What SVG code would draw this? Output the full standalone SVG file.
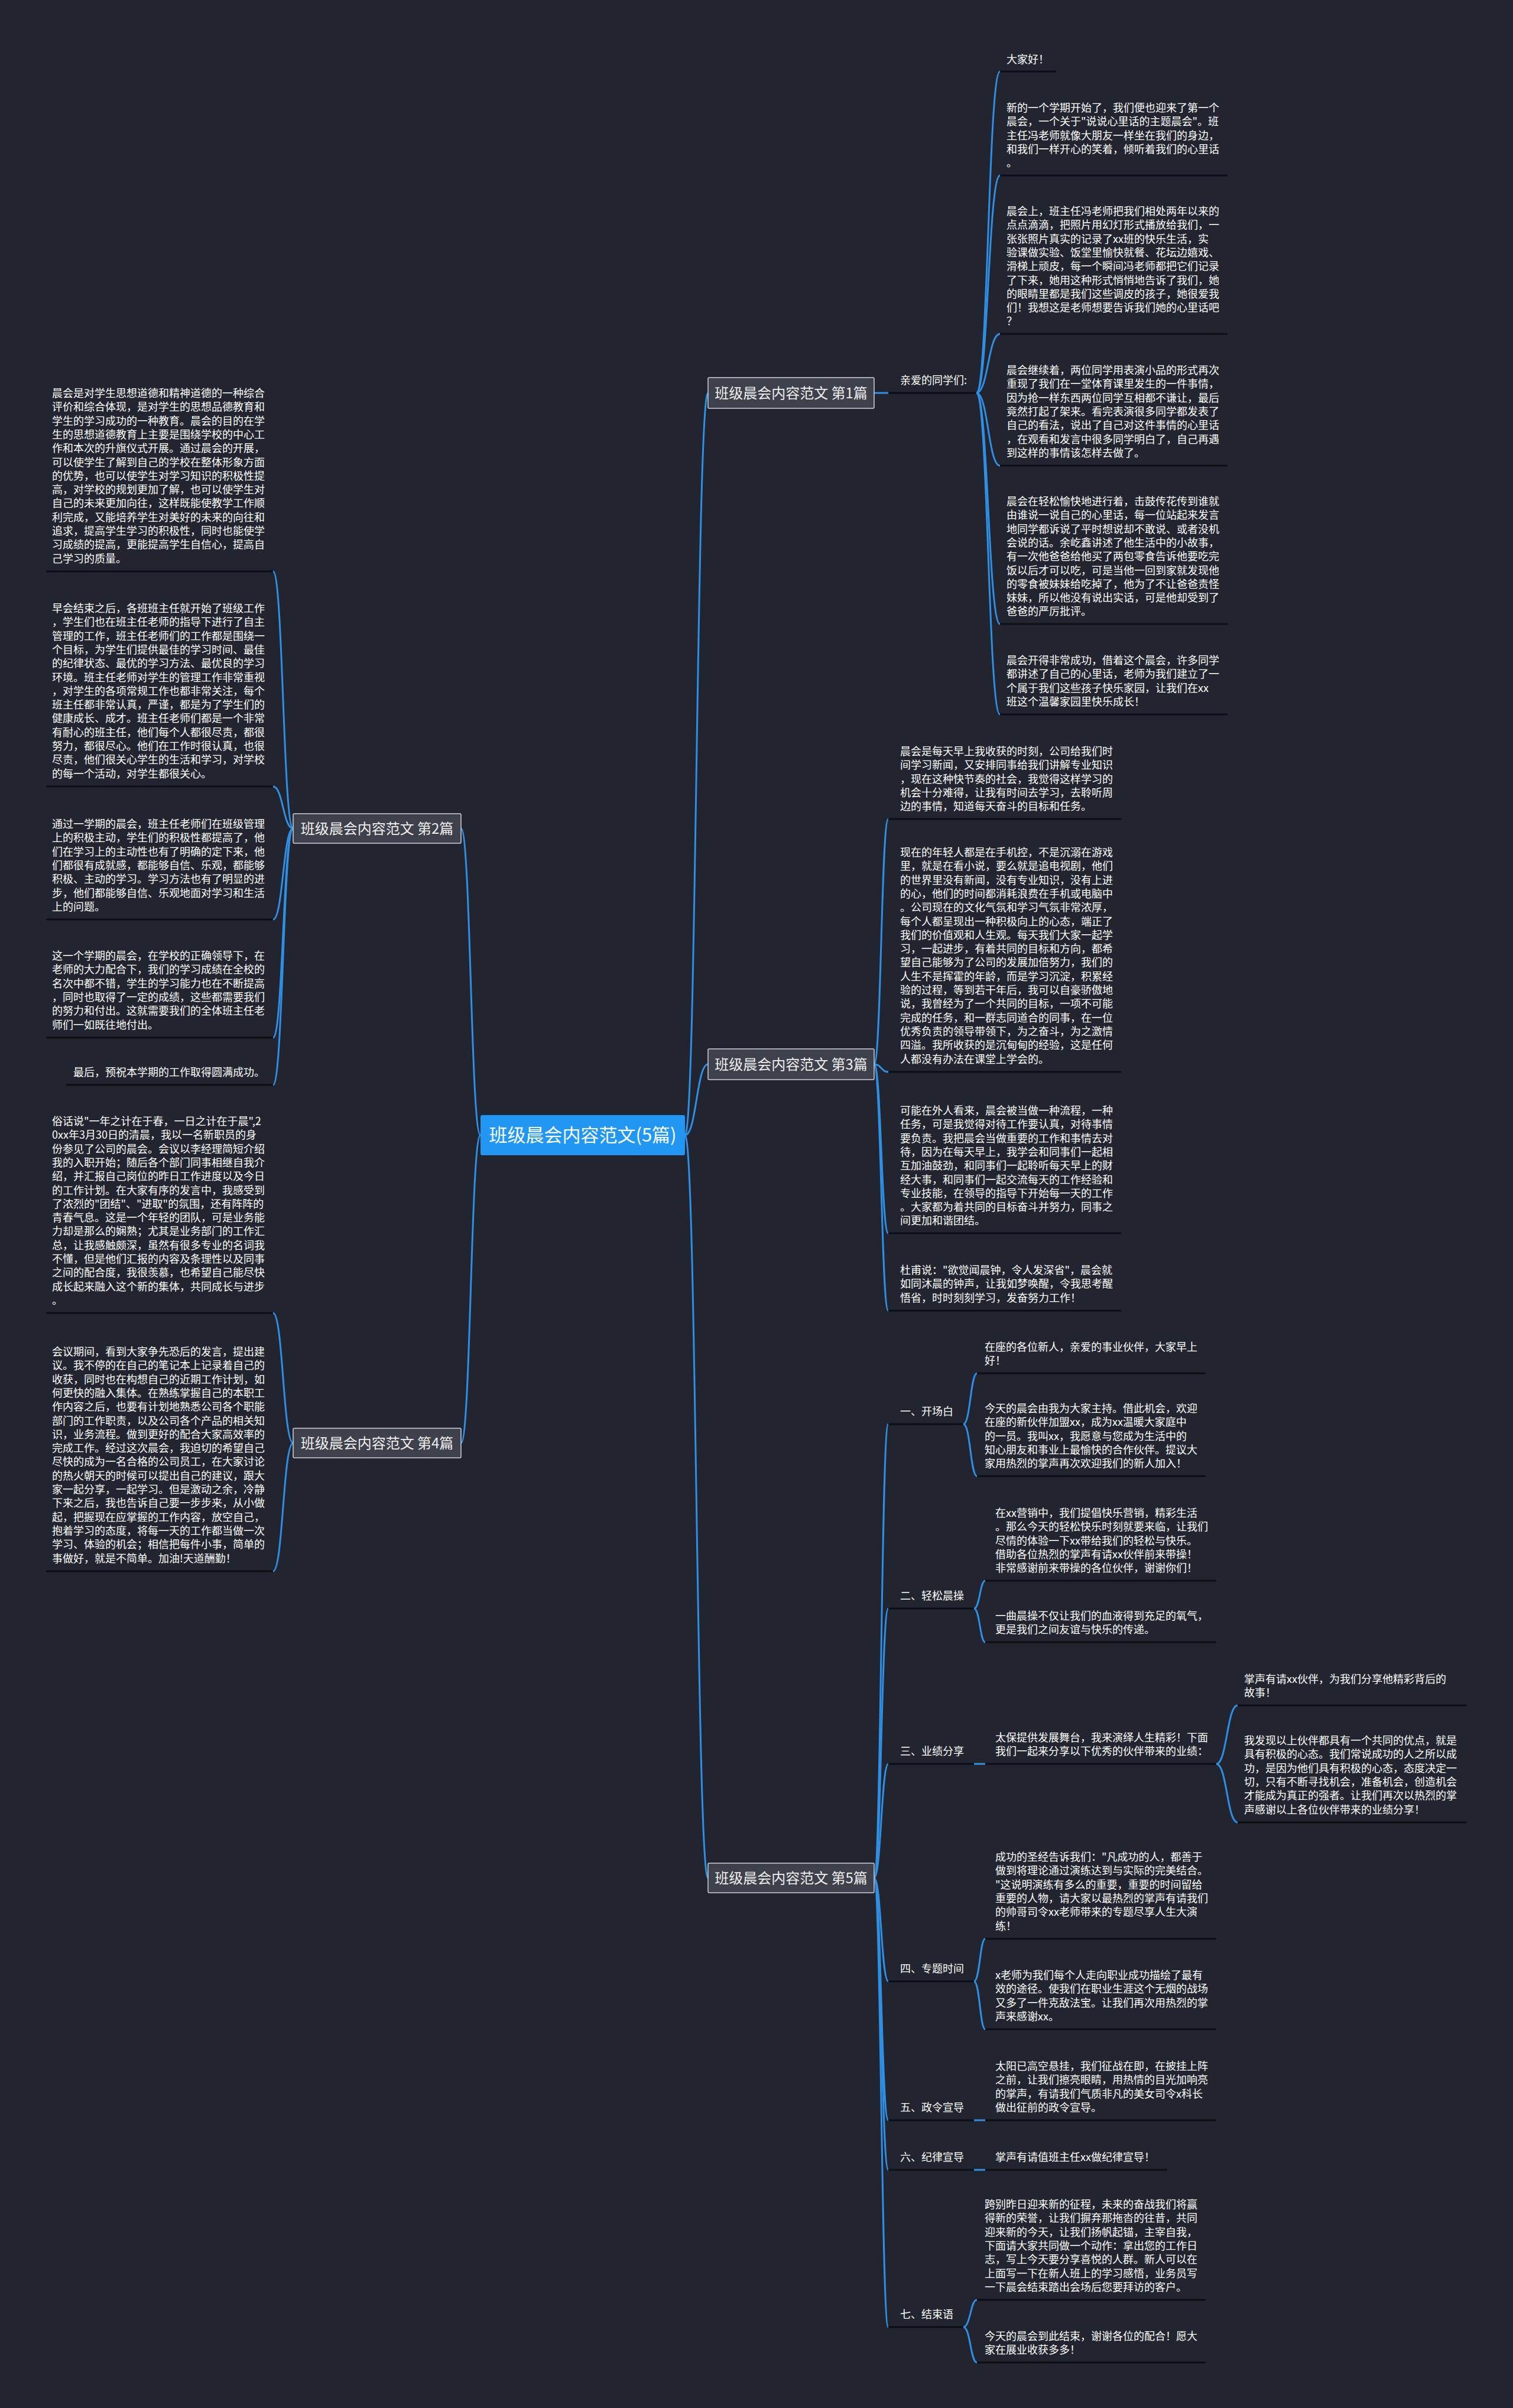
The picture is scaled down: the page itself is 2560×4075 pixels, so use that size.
<svg xmlns="http://www.w3.org/2000/svg" width="2560" height="4075" viewBox="0 0 2560 4075">
<style>
.t{font-family:"Noto Sans CJK SC","Noto Sans",sans-serif;font-size:18px;fill:#ffffff}
.ul{stroke:#0d0f14;stroke-width:3}
.c{fill:none;stroke:#2f8fe3;stroke-width:3}
.bx{fill:#3e414b;stroke:#cfd2d8;stroke-width:1.5}
.bt{font-family:"Noto Sans CJK SC","Noto Sans",sans-serif;font-size:24px;fill:#eeeeee;text-anchor:middle}
.ct{font-family:"Noto Sans CJK SC","Noto Sans",sans-serif;font-size:31px;fill:#ffffff;text-anchor:middle}
</style>
<rect x="0" y="0" width="2560" height="4075" fill="#222530"/>
<g id="connectors">
<path class="c" d="M1159 1921 C1178.5 1921 1178.5 665 1198 665"/>
<path class="c" d="M1159 1921 C1178.5 1921 1178.5 1801 1198 1801"/>
<path class="c" d="M1159 1921 C1178.5 1921 1178.5 3178 1198 3178"/>
<path class="c" d="M813 1921 C796.5 1921 796.5 1402 780 1402"/>
<path class="c" d="M813 1921 C796.5 1921 796.5 2442 780 2442"/>
<path class="c" d="M1479 665 L1503 665"/>
<path class="c" d="M1652 665 C1672 665 1672 121 1692 121"/>
<path class="c" d="M1652 665 C1672 665 1672 297 1692 297"/>
<path class="c" d="M1652 665 C1672 665 1672 565 1692 565"/>
<path class="c" d="M1652 665 C1672 665 1672 788 1692 788"/>
<path class="c" d="M1652 665 C1672 665 1672 1056 1692 1056"/>
<path class="c" d="M1652 665 C1672 665 1672 1209 1692 1209"/>
<path class="c" d="M1479 1801 C1491 1801 1491 1386 1503 1386"/>
<path class="c" d="M1479 1801 C1491 1801 1491 1814 1503 1814"/>
<path class="c" d="M1479 1801 C1491 1801 1491 2087 1503 2087"/>
<path class="c" d="M1479 1801 C1491 1801 1491 2218 1503 2218"/>
<path class="c" d="M496 1402 C479 1402 479 967 462 967"/>
<path class="c" d="M496 1402 C479 1402 479 1331 462 1331"/>
<path class="c" d="M496 1402 C479 1402 479 1556 462 1556"/>
<path class="c" d="M496 1402 C479 1402 479 1756 462 1756"/>
<path class="c" d="M496 1402 C479 1402 479 1836 462 1836"/>
<path class="c" d="M496 2442 C479 2442 479 2222 462 2222"/>
<path class="c" d="M496 2442 C479 2442 479 2659 462 2659"/>
<path class="c" d="M1479 3178 C1491 3178 1491 2410 1503 2410"/>
<path class="c" d="M1479 3178 C1491 3178 1491 2722 1503 2722"/>
<path class="c" d="M1479 3178 C1491 3178 1491 2985 1503 2985"/>
<path class="c" d="M1479 3178 C1491 3178 1491 3353 1503 3353"/>
<path class="c" d="M1479 3178 C1491 3178 1491 3588 1503 3588"/>
<path class="c" d="M1479 3178 C1491 3178 1491 3672 1503 3672"/>
<path class="c" d="M1479 3178 C1491 3178 1491 3938 1503 3938"/>
<path class="c" d="M1630 2410 C1642 2410 1642 2324 1653 2324"/>
<path class="c" d="M1630 2410 C1642 2410 1642 2498 1653 2498"/>
<path class="c" d="M1648 2722 C1658 2722 1658 2675 1667 2675"/>
<path class="c" d="M1648 2722 C1658 2722 1658 2779 1667 2779"/>
<path class="c" d="M1648 2985 L1667 2985"/>
<path class="c" d="M2058 2985 C2076 2985 2076 2886 2094 2886"/>
<path class="c" d="M2058 2985 C2076 2985 2076 3084 2094 3084"/>
<path class="c" d="M1648 3353 C1658 3353 1658 3281 1667 3281"/>
<path class="c" d="M1648 3353 C1658 3353 1658 3434 1667 3434"/>
<path class="c" d="M1648 3588 L1667 3588"/>
<path class="c" d="M1648 3672 L1667 3672"/>
<path class="c" d="M1630 3938 C1642 3938 1642 3892 1653 3892"/>
<path class="c" d="M1630 3938 C1642 3938 1642 3998 1653 3998"/>
</g>

<g id="center"><rect x="813" y="1887" width="346" height="68" rx="3" fill="#2196f3"/><text class="ct" x="986" y="1932">班级晨会内容范文(5篇)</text></g>

<g id="b1"><rect class="bx" x="1198" y="639" width="281" height="52" rx="2"/><text class="bt" x="1338.5" y="674">班级晨会内容范文 第1篇</text></g>
<g id="b2"><rect class="bx" x="496" y="1377" width="284" height="50" rx="2"/><text class="bt" x="638" y="1411">班级晨会内容范文 第2篇</text></g>
<g id="b3"><rect class="bx" x="1198" y="1775" width="281" height="52" rx="2"/><text class="bt" x="1338.5" y="1810">班级晨会内容范文 第3篇</text></g>
<g id="b4"><rect class="bx" x="496" y="2417" width="284" height="50" rx="2"/><text class="bt" x="638" y="2451">班级晨会内容范文 第4篇</text></g>
<g id="b5"><rect class="bx" x="1198" y="3153" width="281" height="50" rx="2"/><text class="bt" x="1338.5" y="3187">班级晨会内容范文 第5篇</text></g>

<g id="n1_0"><text class="t" x="1523" y="650">亲爱的同学们:</text><line class="ul" x1="1503" y1="665" x2="1652" y2="665"/></g>
<g id="n1_1"><text class="t" x="1703" y="107">大家好！</text><line class="ul" x1="1692" y1="121" x2="1787" y2="121"/></g>
<g id="n1_2"><text class="t"><tspan x="1703" y="189">新的一个学期开始了，我们便也迎来了第一个</tspan><tspan x="1703" y="212">晨会，一个关于"说说心里话的主题晨会"。班</tspan><tspan x="1703" y="236">主任冯老师就像大朋友一样坐在我们的身边，</tspan><tspan x="1703" y="259">和我们一样开心的笑着，倾听着我们的心里话</tspan><tspan x="1703" y="282">。</tspan></text><line class="ul" x1="1692" y1="297" x2="2077" y2="297"/></g>
<g id="n1_3"><text class="t"><tspan x="1703" y="364">晨会上，班主任冯老师把我们相处两年以来的</tspan><tspan x="1703" y="387">点点滴滴，把照片用幻灯形式播放给我们，一</tspan><tspan x="1703" y="411">张张照片真实的记录了xx班的快乐生活，实</tspan><tspan x="1703" y="434">验课做实验、饭堂里愉快就餐、花坛边嬉戏、</tspan><tspan x="1703" y="457">滑梯上顽皮，每一个瞬间冯老师都把它们记录</tspan><tspan x="1703" y="481">了下来，她用这种形式悄悄地告诉了我们，她</tspan><tspan x="1703" y="504">的眼睛里都是我们这些调皮的孩子，她很爱我</tspan><tspan x="1703" y="527">们！我想这是老师想要告诉我们她的心里话吧</tspan><tspan x="1703" y="550">？</tspan></text><line class="ul" x1="1692" y1="565" x2="2077" y2="565"/></g>
<g id="n1_4"><text class="t"><tspan x="1703" y="633">晨会继续着，两位同学用表演小品的形式再次</tspan><tspan x="1703" y="656">重现了我们在一堂体育课里发生的一件事情，</tspan><tspan x="1703" y="680">因为抢一样东西两位同学互相都不谦让，最后</tspan><tspan x="1703" y="703">竟然打起了架来。看完表演很多同学都发表了</tspan><tspan x="1703" y="726">自己的看法，说出了自己对这件事情的心里话</tspan><tspan x="1703" y="750">，在观看和发言中很多同学明白了，自己再遇</tspan><tspan x="1703" y="773">到这样的事情该怎样去做了。</tspan></text><line class="ul" x1="1692" y1="788" x2="2077" y2="788"/></g>
<g id="n1_5"><text class="t"><tspan x="1703" y="855">晨会在轻松愉快地进行着，击鼓传花传到谁就</tspan><tspan x="1703" y="878">由谁说一说自己的心里话，每一位站起来发言</tspan><tspan x="1703" y="902">地同学都诉说了平时想说却不敢说、或者没机</tspan><tspan x="1703" y="925">会说的话。余屹鑫讲述了他生活中的小故事，</tspan><tspan x="1703" y="948">有一次他爸爸给他买了两包零食告诉他要吃完</tspan><tspan x="1703" y="972">饭以后才可以吃，可是当他一回到家就发现他</tspan><tspan x="1703" y="995">的零食被妹妹给吃掉了，他为了不让爸爸责怪</tspan><tspan x="1703" y="1018">妹妹，所以他没有说出实话，可是他却受到了</tspan><tspan x="1703" y="1041">爸爸的严厉批评。</tspan></text><line class="ul" x1="1692" y1="1056" x2="2077" y2="1056"/></g>
<g id="n1_6"><text class="t"><tspan x="1703" y="1124">晨会开得非常成功，借着这个晨会，许多同学</tspan><tspan x="1703" y="1147">都讲述了自己的心里话，老师为我们建立了一</tspan><tspan x="1703" y="1171">个属于我们这些孩子快乐家园，让我们在xx</tspan><tspan x="1703" y="1194">班这个温馨家园里快乐成长！</tspan></text><line class="ul" x1="1692" y1="1209" x2="2077" y2="1209"/></g>

<g id="n3_1"><text class="t"><tspan x="1523" y="1278">晨会是每天早上我收获的时刻，公司给我们时</tspan><tspan x="1523" y="1301">间学习新闻，又安排同事给我们讲解专业知识</tspan><tspan x="1523" y="1325">，现在这种快节奏的社会，我觉得这样学习的</tspan><tspan x="1523" y="1348">机会十分难得，让我有时间去学习，去聆听周</tspan><tspan x="1523" y="1371">边的事情，知道每天奋斗的目标和任务。</tspan></text><line class="ul" x1="1503" y1="1386" x2="1897" y2="1386"/></g>
<g id="n3_2"><text class="t"><tspan x="1523" y="1449">现在的年轻人都是在手机控，不是沉溺在游戏</tspan><tspan x="1523" y="1472">里，就是在看小说，要么就是追电视剧，他们</tspan><tspan x="1523" y="1496">的世界里没有新闻，没有专业知识，没有上进</tspan><tspan x="1523" y="1519">的心，他们的时间都消耗浪费在手机或电脑中</tspan><tspan x="1523" y="1542">。公司现在的文化气氛和学习气氛非常浓厚，</tspan><tspan x="1523" y="1566">每个人都呈现出一种积极向上的心态，端正了</tspan><tspan x="1523" y="1589">我们的价值观和人生观。每天我们大家一起学</tspan><tspan x="1523" y="1612">习，一起进步，有着共同的目标和方向，都希</tspan><tspan x="1523" y="1635">望自己能够为了公司的发展加倍努力，我们的</tspan><tspan x="1523" y="1659">人生不是挥霍的年龄，而是学习沉淀，积累经</tspan><tspan x="1523" y="1682">验的过程，等到若干年后，我可以自豪骄傲地</tspan><tspan x="1523" y="1705">说，我曾经为了一个共同的目标，一项不可能</tspan><tspan x="1523" y="1729">完成的任务，和一群志同道合的同事，在一位</tspan><tspan x="1523" y="1752">优秀负责的领导带领下，为之奋斗，为之激情</tspan><tspan x="1523" y="1775">四溢。我所收获的是沉甸甸的经验，这是任何</tspan><tspan x="1523" y="1799">人都没有办法在课堂上学会的。</tspan></text><line class="ul" x1="1503" y1="1814" x2="1897" y2="1814"/></g>
<g id="n3_3"><text class="t"><tspan x="1523" y="1886">可能在外人看来，晨会被当做一种流程，一种</tspan><tspan x="1523" y="1909">任务，可是我觉得对待工作要认真，对待事情</tspan><tspan x="1523" y="1933">要负责。我把晨会当做重要的工作和事情去对</tspan><tspan x="1523" y="1956">待，因为在每天早上，我学会和同事们一起相</tspan><tspan x="1523" y="1979">互加油鼓劲，和同事们一起聆听每天早上的财</tspan><tspan x="1523" y="2003">经大事，和同事们一起交流每天的工作经验和</tspan><tspan x="1523" y="2026">专业技能，在领导的指导下开始每一天的工作</tspan><tspan x="1523" y="2049">。大家都为着共同的目标奋斗并努力，同事之</tspan><tspan x="1523" y="2072">间更加和谐团结。</tspan></text><line class="ul" x1="1503" y1="2087" x2="1897" y2="2087"/></g>
<g id="n3_4"><text class="t"><tspan x="1523" y="2156">杜甫说："欲觉闻晨钟，令人发深省"，晨会就</tspan><tspan x="1523" y="2179">如同沐晨的钟声，让我如梦唤醒，令我思考醒</tspan><tspan x="1523" y="2203">悟省，时时刻刻学习，发奋努力工作！</tspan></text><line class="ul" x1="1503" y1="2218" x2="1897" y2="2218"/></g>

<g id="L1"><text class="t"><tspan x="88" y="672">晨会是对学生思想道德和精神道德的一种综合</tspan><tspan x="88" y="695">评价和综合体现，是对学生的思想品德教育和</tspan><tspan x="88" y="719">学生的学习成功的一种教育。晨会的目的在学</tspan><tspan x="88" y="742">生的思想道德教育上主要是围绕学校的中心工</tspan><tspan x="88" y="765">作和本次的升旗仪式开展。通过晨会的开展，</tspan><tspan x="88" y="789">可以使学生了解到自己的学校在整体形象方面</tspan><tspan x="88" y="812">的优势，也可以使学生对学习知识的积极性提</tspan><tspan x="88" y="835">高，对学校的规划更加了解，也可以使学生对</tspan><tspan x="88" y="858">自己的未来更加向往，这样既能使教学工作顺</tspan><tspan x="88" y="882">利完成，又能培养学生对美好的未来的向往和</tspan><tspan x="88" y="905">追求，提高学生学习的积极性，同时也能使学</tspan><tspan x="88" y="928">习成绩的提高，更能提高学生自信心，提高自</tspan><tspan x="88" y="952">己学习的质量。</tspan></text><line class="ul" x1="78" y1="967" x2="462" y2="967"/></g>
<g id="L2"><text class="t"><tspan x="88" y="1036">早会结束之后，各班班主任就开始了班级工作</tspan><tspan x="88" y="1059">，学生们也在班主任老师的指导下进行了自主</tspan><tspan x="88" y="1083">管理的工作，班主任老师们的工作都是围绕一</tspan><tspan x="88" y="1106">个目标，为学生们提供最佳的学习时间、最佳</tspan><tspan x="88" y="1129">的纪律状态、最优的学习方法、最优良的学习</tspan><tspan x="88" y="1153">环境。班主任老师对学生的管理工作非常重视</tspan><tspan x="88" y="1176">，对学生的各项常规工作也都非常关注，每个</tspan><tspan x="88" y="1199">班主任都非常认真，严谨，都是为了学生们的</tspan><tspan x="88" y="1222">健康成长、成才。班主任老师们都是一个非常</tspan><tspan x="88" y="1246">有耐心的班主任，他们每个人都很尽责，都很</tspan><tspan x="88" y="1269">努力，都很尽心。他们在工作时很认真，也很</tspan><tspan x="88" y="1292">尽责，他们很关心学生的生活和学习，对学校</tspan><tspan x="88" y="1316">的每一个活动，对学生都很关心。</tspan></text><line class="ul" x1="78" y1="1331" x2="462" y2="1331"/></g>
<g id="L3"><text class="t"><tspan x="88" y="1401">通过一学期的晨会，班主任老师们在班级管理</tspan><tspan x="88" y="1424">上的积极主动，学生们的积极性都提高了，他</tspan><tspan x="88" y="1448">们在学习上的主动性也有了明确的定下来，他</tspan><tspan x="88" y="1471">们都很有成就感，都能够自信、乐观，都能够</tspan><tspan x="88" y="1494">积极、主动的学习。学习方法也有了明显的进</tspan><tspan x="88" y="1518">步，他们都能够自信、乐观地面对学习和生活</tspan><tspan x="88" y="1541">上的问题。</tspan></text><line class="ul" x1="78" y1="1556" x2="462" y2="1556"/></g>
<g id="L4"><text class="t"><tspan x="88" y="1624">这一个学期的晨会，在学校的正确领导下，在</tspan><tspan x="88" y="1647">老师的大力配合下，我们的学习成绩在全校的</tspan><tspan x="88" y="1671">名次中都不错，学生的学习能力也在不断提高</tspan><tspan x="88" y="1694">，同时也取得了一定的成绩，这些都需要我们</tspan><tspan x="88" y="1717">的努力和付出。这就需要我们的全体班主任老</tspan><tspan x="88" y="1741">师们一如既往地付出。</tspan></text><line class="ul" x1="78" y1="1756" x2="462" y2="1756"/></g>
<g id="L5"><text class="t" x="124" y="1821">最后，预祝本学期的工作取得圆满成功。</text><line class="ul" x1="112" y1="1836" x2="462" y2="1836"/></g>
<g id="L6"><text class="t"><tspan x="88" y="1904">俗话说"一年之计在于春，一日之计在于晨",2</tspan><tspan x="88" y="1927">0xx年3月30日的清晨，我以一名新职员的身</tspan><tspan x="88" y="1951">份参见了公司的晨会。会议以李经理简短介绍</tspan><tspan x="88" y="1974">我的入职开始；随后各个部门同事相继自我介</tspan><tspan x="88" y="1997">绍，并汇报自己岗位的昨日工作进度以及今日</tspan><tspan x="88" y="2021">的工作计划。在大家有序的发言中，我感受到</tspan><tspan x="88" y="2044">了浓烈的"团结"、"进取"的氛围，还有阵阵的</tspan><tspan x="88" y="2067">青春气息。这是一个年轻的团队，可是业务能</tspan><tspan x="88" y="2090">力却是那么的娴熟；尤其是业务部门的工作汇</tspan><tspan x="88" y="2114">总，让我感触颇深，虽然有很多专业的名词我</tspan><tspan x="88" y="2137">不懂，但是他们汇报的内容及条理性以及同事</tspan><tspan x="88" y="2160">之间的配合度，我很羡慕，也希望自己能尽快</tspan><tspan x="88" y="2184">成长起来融入这个新的集体，共同成长与进步</tspan><tspan x="88" y="2207">。</tspan></text><line class="ul" x1="78" y1="2222" x2="462" y2="2222"/></g>
<g id="L7"><text class="t"><tspan x="88" y="2294">会议期间，看到大家争先恐后的发言，提出建</tspan><tspan x="88" y="2317">议。我不停的在自己的笔记本上记录着自己的</tspan><tspan x="88" y="2341">收获，同时也在构想自己的近期工作计划，如</tspan><tspan x="88" y="2364">何更快的融入集体。在熟练掌握自己的本职工</tspan><tspan x="88" y="2387">作内容之后，也要有计划地熟悉公司各个职能</tspan><tspan x="88" y="2411">部门的工作职责，以及公司各个产品的相关知</tspan><tspan x="88" y="2434">识，业务流程。做到更好的配合大家高效率的</tspan><tspan x="88" y="2457">完成工作。经过这次晨会，我迫切的希望自己</tspan><tspan x="88" y="2480">尽快的成为一名合格的公司员工，在大家讨论</tspan><tspan x="88" y="2504">的热火朝天的时候可以提出自己的建议，跟大</tspan><tspan x="88" y="2527">家一起分享，一起学习。但是激动之余，冷静</tspan><tspan x="88" y="2550">下来之后，我也告诉自己要一步步来，从小做</tspan><tspan x="88" y="2574">起，把握现在应掌握的工作内容，放空自己，</tspan><tspan x="88" y="2597">抱着学习的态度，将每一天的工作都当做一次</tspan><tspan x="88" y="2620">学习、体验的机会；相信把每件小事，简单的</tspan><tspan x="88" y="2644">事做好，就是不简单。加油!天道酬勤！</tspan></text><line class="ul" x1="78" y1="2659" x2="462" y2="2659"/></g>

<g id="s1"><text class="t" x="1523" y="2395">一、开场白</text><line class="ul" x1="1503" y1="2410" x2="1630" y2="2410"/></g>
<g id="c1a"><text class="t"><tspan x="1666" y="2286">在座的各位新人，亲爱的事业伙伴，大家早上</tspan><tspan x="1666" y="2309">好！</tspan></text><line class="ul" x1="1653" y1="2324" x2="2040" y2="2324"/></g>
<g id="c1b"><text class="t"><tspan x="1666" y="2390">今天的晨会由我为大家主持。借此机会，欢迎</tspan><tspan x="1666" y="2413">在座的新伙伴加盟xx，成为xx温暖大家庭中</tspan><tspan x="1666" y="2437">的一员。我叫xx，我愿意与您成为生活中的</tspan><tspan x="1666" y="2460">知心朋友和事业上最愉快的合作伙伴。提议大</tspan><tspan x="1666" y="2483">家用热烈的掌声再次欢迎我们的新人加入！</tspan></text><line class="ul" x1="1653" y1="2498" x2="2040" y2="2498"/></g>
<g id="s2"><text class="t" x="1523" y="2707">二、轻松晨操</text><line class="ul" x1="1503" y1="2722" x2="1648" y2="2722"/></g>
<g id="c2a"><text class="t"><tspan x="1684" y="2567">在xx营销中，我们提倡快乐营销，精彩生活</tspan><tspan x="1684" y="2590">。那么今天的轻松快乐时刻就要来临，让我们</tspan><tspan x="1684" y="2614">尽情的体验一下xx带给我们的轻松与快乐。</tspan><tspan x="1684" y="2637">借助各位热烈的掌声有请xx伙伴前来带操！</tspan><tspan x="1684" y="2660">非常感谢前来带操的各位伙伴，谢谢你们！</tspan></text><line class="ul" x1="1667" y1="2675" x2="2058" y2="2675"/></g>
<g id="c2b"><text class="t"><tspan x="1684" y="2741">一曲晨操不仅让我们的血液得到充足的氧气，</tspan><tspan x="1684" y="2764">更是我们之间友谊与快乐的传递。</tspan></text><line class="ul" x1="1667" y1="2779" x2="2058" y2="2779"/></g>
<g id="s3"><text class="t" x="1523" y="2970">三、业绩分享</text><line class="ul" x1="1503" y1="2985" x2="1648" y2="2985"/></g>
<g id="c3"><text class="t"><tspan x="1684" y="2947">太保提供发展舞台，我来演绎人生精彩！下面</tspan><tspan x="1684" y="2970">我们一起来分享以下优秀的伙伴带来的业绩：</tspan></text><line class="ul" x1="1667" y1="2985" x2="2058" y2="2985"/></g>
<g id="c3a"><text class="t"><tspan x="2105" y="2848">掌声有请xx伙伴，为我们分享他精彩背后的</tspan><tspan x="2105" y="2871">故事！</tspan></text><line class="ul" x1="2094" y1="2886" x2="2481" y2="2886"/></g>
<g id="c3b"><text class="t"><tspan x="2105" y="2952">我发现以上伙伴都具有一个共同的优点，就是</tspan><tspan x="2105" y="2975">具有积极的心态。我们常说成功的人之所以成</tspan><tspan x="2105" y="2999">功，是因为他们具有积极的心态，态度决定一</tspan><tspan x="2105" y="3022">切，只有不断寻找机会，准备机会，创造机会</tspan><tspan x="2105" y="3045">才能成为真正的强者。让我们再次以热烈的掌</tspan><tspan x="2105" y="3069">声感谢以上各位伙伴带来的业绩分享！</tspan></text><line class="ul" x1="2094" y1="3084" x2="2481" y2="3084"/></g>
<g id="s4"><text class="t" x="1523" y="3338">四、专题时间</text><line class="ul" x1="1503" y1="3353" x2="1648" y2="3353"/></g>
<g id="c4a"><text class="t"><tspan x="1684" y="3149">成功的圣经告诉我们："凡成功的人，都善于</tspan><tspan x="1684" y="3172">做到将理论通过演练达到与实际的完美结合。</tspan><tspan x="1684" y="3196">"这说明演练有多么的重要，重要的时间留给</tspan><tspan x="1684" y="3219">重要的人物，请大家以最热烈的掌声有请我们</tspan><tspan x="1684" y="3242">的帅哥司令xx老师带来的专题尽享人生大演</tspan><tspan x="1684" y="3266">练！</tspan></text><line class="ul" x1="1667" y1="3281" x2="2058" y2="3281"/></g>
<g id="c4b"><text class="t"><tspan x="1684" y="3349">x老师为我们每个人走向职业成功描绘了最有</tspan><tspan x="1684" y="3372">效的途径。使我们在职业生涯这个无烟的战场</tspan><tspan x="1684" y="3396">又多了一件克敌法宝。让我们再次用热烈的掌</tspan><tspan x="1684" y="3419">声来感谢xx。</tspan></text><line class="ul" x1="1667" y1="3434" x2="2058" y2="3434"/></g>
<g id="s5"><text class="t" x="1523" y="3573">五、政令宣导</text><line class="ul" x1="1503" y1="3588" x2="1648" y2="3588"/></g>
<g id="c5"><text class="t"><tspan x="1684" y="3503">太阳已高空悬挂，我们征战在即，在披挂上阵</tspan><tspan x="1684" y="3526">之前，让我们擦亮眼睛，用热情的目光加响亮</tspan><tspan x="1684" y="3550">的掌声，有请我们气质非凡的美女司令x科长</tspan><tspan x="1684" y="3573">做出征前的政令宣导。</tspan></text><line class="ul" x1="1667" y1="3588" x2="2058" y2="3588"/></g>
<g id="s6"><text class="t" x="1523" y="3657">六、纪律宣导</text><line class="ul" x1="1503" y1="3672" x2="1648" y2="3672"/></g>
<g id="c6"><text class="t" x="1684" y="3657">掌声有请值班主任xx做纪律宣导！</text><line class="ul" x1="1667" y1="3672" x2="1975" y2="3672"/></g>
<g id="s7"><text class="t" x="1523" y="3923">七、结束语</text><line class="ul" x1="1503" y1="3938" x2="1630" y2="3938"/></g>
<g id="c7a"><text class="t"><tspan x="1666" y="3737">跨别昨日迎来新的征程，未来的奋战我们将赢</tspan><tspan x="1666" y="3760">得新的荣誉，让我们摒弃那拖沓的往昔，共同</tspan><tspan x="1666" y="3784">迎来新的今天，让我们扬帆起锚，主宰自我，</tspan><tspan x="1666" y="3807">下面请大家共同做一个动作：拿出您的工作日</tspan><tspan x="1666" y="3830">志，写上今天要分享喜悦的人群。新人可以在</tspan><tspan x="1666" y="3854">上面写一下在新人班上的学习感悟，业务员写</tspan><tspan x="1666" y="3877">一下晨会结束踏出会场后您要拜访的客户。</tspan></text><line class="ul" x1="1653" y1="3892" x2="2040" y2="3892"/></g>
<g id="c7b"><text class="t"><tspan x="1666" y="3960">今天的晨会到此结束，谢谢各位的配合！愿大</tspan><tspan x="1666" y="3983">家在展业收获多多！</tspan></text><line class="ul" x1="1653" y1="3998" x2="2040" y2="3998"/></g>
</svg>
